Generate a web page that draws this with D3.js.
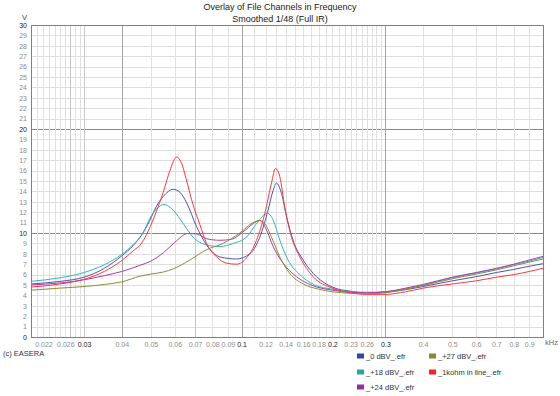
<!DOCTYPE html>
<html>
<head>
<meta charset="utf-8">
<script src="https://cdn.jsdelivr.net/npm/d3@7"></script>
<style>
  body { margin: 0; background: #fff; }
  svg { font-family: "Liberation Sans", Arial, sans-serif; }
  .tick text { font-family: "Liberation Sans Narrow", "Liberation Sans", Arial, sans-serif; }
</style>
</head>
<body>
<div id="chart"></div>
<script>
// impedance readings, [kHz, V]
let ch_0dbv = [[0.02,5.1],[0.025,5.35],[0.03,5.75],[0.035,6.6],[0.04,7.8],[0.0437,8.8],[0.0465,9.8],[0.0494,11.1],
  [0.052,12.5],[0.0549,13.5],[0.0593,14.2],[0.0625,13.9],[0.0657,12.9],[0.0709,10.6],[0.0765,8.85],[0.0847,7.7],
  [0.0962,7.5],[0.1064,8.0],[0.1149,9.6],[0.1224,12.2],[0.1272,14.1],[0.1305,14.8],[0.1356,13.8],[0.1409,11.6],
  [0.1481,9.3],[0.16,7.4],[0.1772,5.8],[0.2,4.8],[0.23,4.4],[0.26,4.25],[0.3,4.3],[0.35,4.55],[0.4,4.85],
  [0.5,5.4],[0.6,5.8],[0.7,6.2],[0.8,6.5],[0.9,6.8],[1.0,7.05]];
let ch_18dbv = [[0.02,5.35],[0.025,5.7],[0.03,6.2],[0.035,6.95],[0.04,7.95],[0.0437,8.9],[0.0471,10.0],[0.0496,11.4],
  [0.0525,12.4],[0.0552,12.75],[0.0593,12.2],[0.064,10.9],[0.069,9.6],[0.0765,8.85],[0.0847,8.7],[0.0937,9.0],
  [0.1038,9.6],[0.112,10.9],[0.1219,11.9],[0.1272,11.25],[0.1339,9.3],[0.1426,7.4],[0.156,6.0],[0.175,5.0],
  [0.2,4.6],[0.23,4.35],[0.26,4.3],[0.3,4.35],[0.35,4.65],[0.4,5.0],[0.5,5.7],[0.6,6.15],[0.7,6.55],[0.8,6.95],
  [0.9,7.3],[1.0,7.65]];
let ch_24dbv = [[0.02,5.0],[0.025,5.2],[0.03,5.5],[0.035,5.9],[0.04,6.3],[0.046,6.9],[0.05,7.3],[0.055,8.1],
  [0.06,9.1],[0.0663,9.95],[0.071,9.9],[0.0765,9.45],[0.0847,9.3],[0.0926,9.4],[0.1011,10.1],[0.1092,10.9],
  [0.1149,11.2],[0.1209,10.3],[0.1272,8.7],[0.1373,7.1],[0.152,5.8],[0.17,5.0],[0.2,4.5],[0.23,4.3],[0.26,4.25],
  [0.3,4.35],[0.35,4.7],[0.4,5.05],[0.5,5.75],[0.6,6.2],[0.7,6.6],[0.8,7.0],[0.9,7.4],[1.0,7.75]];
let ch_27dbv = [[0.02,4.5],[0.025,4.7],[0.03,4.85],[0.035,5.05],[0.04,5.3],[0.046,5.85],[0.05,6.05],[0.055,6.25],
  [0.0593,6.55],[0.0673,7.4],[0.0765,8.4],[0.0868,9.0],[0.0986,10.0],[0.1092,11.0],[0.1143,11.2],[0.1194,10.9],
  [0.1256,9.6],[0.1339,7.7],[0.1445,6.1],[0.16,5.1],[0.18,4.6],[0.2,4.35],[0.23,4.2],[0.26,4.15],[0.3,4.25],
  [0.35,4.6],[0.4,4.95],[0.5,5.6],[0.6,6.05],[0.7,6.45],[0.8,6.85],[0.9,7.2],[1.0,7.5]];
let ch_1kohm = [[0.02,4.8],[0.025,5.1],[0.03,5.55],[0.035,6.3],[0.04,7.35],[0.0437,8.3],[0.0465,9.0],[0.049,10.2],
  [0.052,12.0],[0.0549,13.9],[0.0578,16.0],[0.0608,17.3],[0.063,16.8],[0.0657,15.0],[0.069,12.7],[0.0727,10.8],
  [0.0765,9.0],[0.0826,7.7],[0.0891,7.1],[0.0962,7.0],[0.1038,7.6],[0.112,9.3],[0.1194,11.9],[0.1256,14.8],
  [0.1295,16.2],[0.1339,15.4],[0.139,12.5],[0.1464,9.6],[0.156,7.7],[0.1726,5.8],[0.2,4.7],[0.23,4.25],[0.26,4.1],
  [0.3,4.1],[0.35,4.35],[0.4,4.7],[0.5,5.1],[0.6,5.4],[0.7,5.75],[0.8,6.0],[0.9,6.3],[1.0,6.6]];

let seriesNames = ["_0 dBV_.efr", "_+18 dBV_.efr", "_+24 dBV_.efr", "_+27 dBV_.efr", "_1kohm in line_.efr"];
let seriesColors = ["#4a55b8", "#30b8b4", "#b03cb4", "#8c8c34", "#ff3838"];
let swatchColors = ["#2c48a8", "#20a8a8", "#9c2c9c", "#8a8a2c", "#ff2020"];

let xTicks = [0.022, 0.026, 0.03, 0.04, 0.05, 0.06, 0.07, 0.08, 0.09, 0.1, 0.12, 0.14, 0.16, 0.18, 0.2,
  0.23, 0.26, 0.3, 0.4, 0.5, 0.6, 0.7, 0.8, 0.9];
let xTicksBold = [0.03, 0.1, 0.2, 0.3];
let yTicks = d3.range(0, 31);

let width = 560, height = 396;
let margin = {top: 25, right: 17, bottom: 59, left: 31};
let plot_w = width - margin.left - margin.right;
let plot_h = height - margin.top - margin.bottom;

let svg = d3.select('#chart')
    .append('svg')
    .attr('width', width)
    .attr('height', height);

let g = svg.append('g')
    .attr('transform', `translate(${margin.left}, ${margin.top})`);

let x = d3.scaleLog().domain([0.02, 1]).range([0, plot_w]);
let y = d3.scaleLinear().domain([0, 30]).range([plot_h, 0]);

// grid: 1 Hz steps below 30 Hz, 10 Hz up to 300 Hz, 100 Hz above
let gridFreqs = [].concat(
    d3.range(21, 30).map(d => d / 1000),
    d3.range(3, 30).map(d => d / 100),
    d3.range(3, 10).map(d => d / 10));
let darkV = [0.04, 0.1, 0.3];
let midV = [0.027, 0.03, 0.07];

g.selectAll('.hgrid').data(yTicks).enter()
    .append('line')
    .attr('class', 'hgrid')
    .attr('x1', 0).attr('x2', plot_w)
    .attr('y1', d => Math.round(y(d)) + 0.5).attr('y2', d => Math.round(y(d)) + 0.5)
    .attr('stroke', d => d % 10 == 0 ? '#8a8a8a' : '#dedede');

g.selectAll('.vgrid').data(gridFreqs).enter()
    .append('line')
    .attr('class', 'vgrid')
    .attr('x1', d => Math.round(x(d)) + 0.5).attr('x2', d => Math.round(x(d)) + 0.5)
    .attr('y1', 0).attr('y2', plot_h)
    .attr('stroke', d => {
        if (darkV.some(v => Math.abs(v - d) < 1e-6)) return '#a4a4a4';
        if (midV.some(v => Math.abs(v - d) < 1e-6)) return '#c8c8c8';
        return '#e0e0e0';
    });

// curves
let line = d3.line()
    .x(d => x(d[0]))
    .y(d => y(d[1]))
    .curve(d3.curveMonotoneX);

let allSeries = [ch_0dbv, ch_18dbv, ch_24dbv, ch_27dbv, ch_1kohm];
g.selectAll('.curve').data(allSeries).enter()
    .append('path')
    .attr('class', 'curve')
    .attr('d', line)
    .attr('fill', 'none')
    .attr('stroke', (d, i) => seriesColors[i])
    .attr('stroke-width', 1);

// frame
g.append('rect')
    .attr('x', 0.5).attr('y', 0.5)
    .attr('width', plot_w).attr('height', plot_h)
    .attr('fill', 'none')
    .attr('stroke', '#808080');

// axes
let xAxis = g.append('g')
    .attr('transform', `translate(0, ${plot_h})`)
    .call(d3.axisBottom(x).tickValues(xTicks).tickSize(0).tickPadding(5).tickFormat(d => String(d)));
xAxis.select('.domain').remove();
xAxis.selectAll('text')
    .style('font-size', '7px')
    .attr('fill', d => xTicksBold.includes(d) ? '#222' : '#8c8c8c');

let yAxis = g.append('g')
    .call(d3.axisLeft(y).tickValues(yTicks).tickSize(0).tickPadding(4).tickFormat(d3.format('d')));
yAxis.select('.domain').remove();
yAxis.selectAll('text')
    .style('font-size', '7px')
    .attr('fill', d => d % 10 == 0 ? '#222' : '#8c8c8c');

// texts
svg.append('text')
    .attr('x', 280).attr('y', 10)
    .style('text-anchor', 'middle')
    .style('font-size', '9px')
    .attr('fill', '#222')
    .text('Overlay of File Channels in Frequency');
svg.append('text')
    .attr('x', 280).attr('y', 22)
    .style('text-anchor', 'middle')
    .style('font-size', '9px')
    .attr('fill', '#222')
    .text('Smoothed 1/48 (Full IR)');
svg.append('text')
    .attr('x', 27).attr('y', 20)
    .style('text-anchor', 'end')
    .style('font-size', '7.5px')
    .attr('fill', '#444')
    .text('V');
svg.append('text')
    .attr('x', 545).attr('y', margin.top + plot_h + 8)
    .style('font-size', '7.5px')
    .attr('fill', '#666')
    .text('kHz');
svg.append('text')
    .attr('x', 3).attr('y', 356)
    .style('font-size', '7.5px')
    .attr('fill', '#333')
    .text('(c) EASERA');

// legend, two columns
let legendPos = [[357, 356], [357, 372], [357, 387], [429, 356], [429, 372]];
let legend = svg.selectAll('.legend').data(seriesNames).enter()
    .append('g')
    .attr('class', 'legend')
    .attr('transform', (d, i) => `translate(${legendPos[i][0]}, ${legendPos[i][1]})`);
legend.append('rect')
    .attr('x', 0).attr('y', -2.5)
    .attr('width', 7).attr('height', 5)
    .attr('fill', (d, i) => swatchColors[i]);
legend.append('text')
    .attr('x', 9).attr('y', 3)
    .style('font-size', '7.5px')
    .attr('fill', '#333')
    .text(d => d);
</script>
</body>
</html>
